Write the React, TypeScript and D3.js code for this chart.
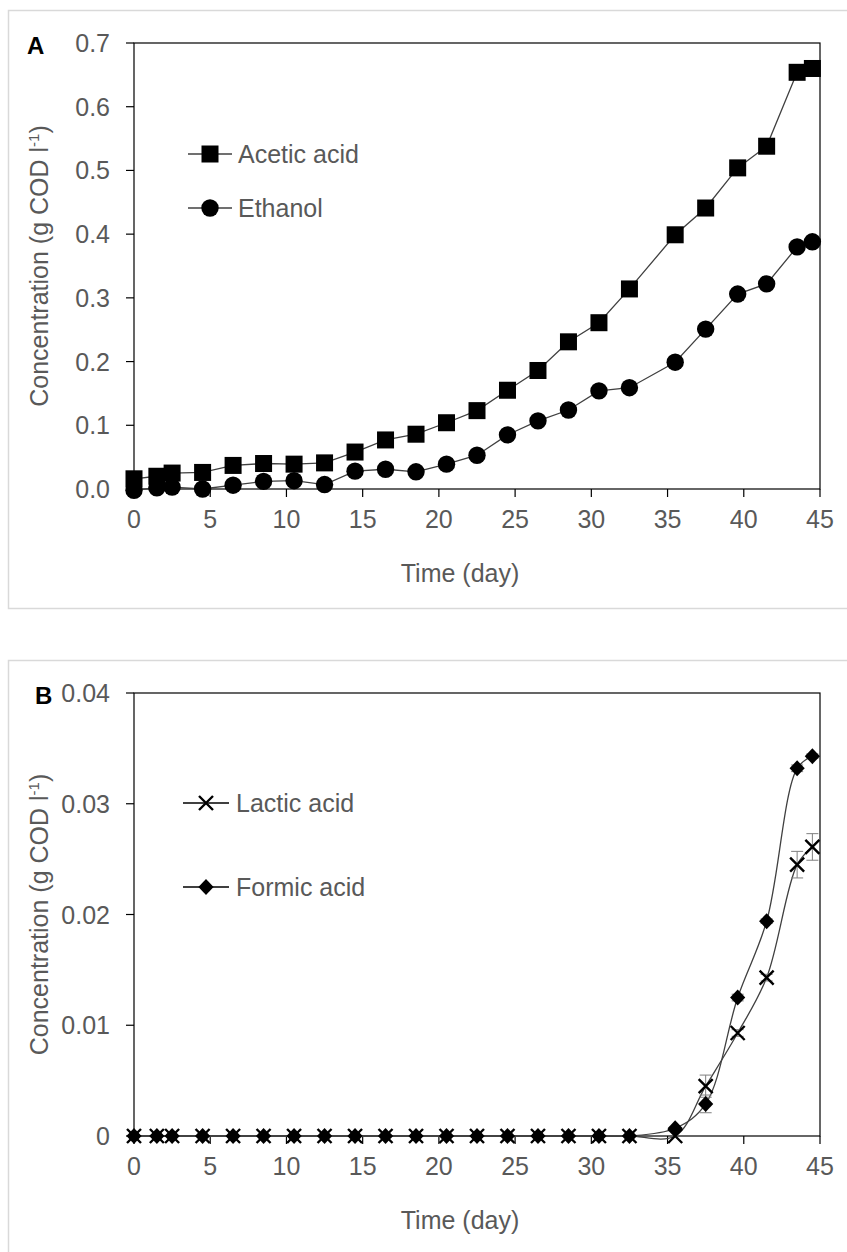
import React from "react";
import * as d3 from "d3";

const days = [0, 1.5, 2.5, 4.5, 6.5, 8.5, 10.5, 12.5, 14.5, 16.5, 18.5, 20.5, 22.5, 24.5, 26.5, 28.5, 30.5, 32.5, 35.5, 37.5, 39.6, 41.5, 43.5, 44.5];
const acetic = [0.016, 0.02, 0.025, 0.026, 0.037, 0.04, 0.039, 0.041, 0.058, 0.077, 0.086, 0.104, 0.123, 0.155, 0.186, 0.231, 0.261, 0.314, 0.399, 0.441, 0.504, 0.538, 0.654, 0.66];
const ethanol = [-0.002, 0.002, 0.003, 0.0, 0.006, 0.012, 0.013, 0.007, 0.028, 0.031, 0.027, 0.039, 0.053, 0.085, 0.107, 0.124, 0.154, 0.159, 0.199, 0.251, 0.306, 0.322, 0.38, 0.388];
const lactic = [0, 0, 0, 0, 0, 0, 0, 0, 0, 0, 0, 0, 0, 0, 0, 0, 0, 0, 0, 0.0045, 0.0093, 0.0143, 0.0245, 0.0261];
const formic = [0, 0, 0, 0, 0, 0, 0, 0, 0, 0, 0, 0, 0, 0, 0, 0, 0, 0, 0.0007, 0.0029, 0.0125, 0.0194, 0.0332, 0.0343];
const lacticErr = [0, 0, 0, 0, 0, 0, 0, 0, 0, 0, 0, 0, 0, 0, 0, 0, 0, 0, 0, 0.001, 0.0003, 0.0003, 0.0012, 0.0012];
const formicErr = [0, 0, 0, 0, 0, 0, 0, 0, 0, 0, 0, 0, 0, 0, 0, 0, 0, 0, 0, 0.0008, 0.0003, 0.0002, 0.0003, 0.0002];
const xTicks = [0, 5, 10, 15, 20, 25, 30, 35, 40, 45];
const yTicksA = [0, 0.1, 0.2, 0.3, 0.4, 0.5, 0.6, 0.7];
const yTicksB = [0, 0.01, 0.02, 0.03, 0.04];
const yLabelsA = ["0.0", "0.1", "0.2", "0.3", "0.4", "0.5", "0.6", "0.7"];
const yLabelsB = ["0", "0.01", "0.02", "0.03", "0.04"];

const FONT = "'Liberation Sans', Arial, sans-serif";
const GRAY = "#595959";
const LINE = "#404040";
const FS = 25;

const L = 134, R = 820;

function Square({ x, y, s = 17 }: { x: number; y: number; s?: number }) {
  return <rect x={x - s / 2} y={y - s / 2} width={s} height={s} fill="#000" />;
}
function Circle({ x, y, r = 8.7 }: { x: number; y: number; r?: number }) {
  return <circle cx={x} cy={y} r={r} fill="#000" />;
}
function Diamond({ x, y, s = 8 }: { x: number; y: number; s?: number }) {
  return <path d={`M${x},${y - s}L${x + s * 0.95},${y}L${x},${y + s}L${x - s * 0.95},${y}Z`} fill="#000" />;
}
function Cross({ x, y, s = 7 }: { x: number; y: number; s?: number }) {
  return (
    <path d={`M${x - s},${y - s}L${x + s},${y + s}M${x - s},${y + s}L${x + s},${y - s}`} stroke="#000" strokeWidth={2.4} fill="none" />
  );
}

function Panel({
  top, bottom, yMax, yTicks, yLabels, letter, letterX,
}: { top: number; bottom: number; yMax: number; yTicks: number[]; yLabels: string[]; letter: string; letterX: number }) {
  const x = d3.scaleLinear().domain([0, 45]).range([L, R]);
  const y = d3.scaleLinear().domain([0, yMax]).range([bottom, top]);
  const mid = (top + bottom) / 2;
  return (
    <g>
      <rect x={L} y={top} width={R - L} height={bottom - top} fill="none" stroke="#000" strokeWidth={1.2} />
      {yTicks.map((t, i) => (
        <g key={"y" + i}>
          <line x1={L - 8} x2={L} y1={y(t)} y2={y(t)} stroke="#000" strokeWidth={1.2} />
          <text x={110} y={y(t) + 9} textAnchor="end" fontSize={FS} fill={GRAY} fontFamily={FONT}>{yLabels[i]}</text>
        </g>
      ))}
      {xTicks.map((t, i) => (
        <g key={"x" + i}>
          <line x1={x(t)} x2={x(t)} y1={bottom} y2={bottom + 8} stroke="#000" strokeWidth={1.2} />
          <text x={x(t)} y={bottom + 39} textAnchor="middle" fontSize={FS} fill={GRAY} fontFamily={FONT}>{t}</text>
        </g>
      ))}
      <text x={460} y={bottom + 93} textAnchor="middle" fontSize={FS} fill={GRAY} fontFamily={FONT}>Time (day)</text>
      <text transform={`translate(48,${mid}) rotate(-90)`} textAnchor="middle" fontSize={FS} fill={GRAY} fontFamily={FONT}>
        Concentration (g COD l<tspan fontSize={15} dy={-9}>-1</tspan><tspan dy={9}>)</tspan>
      </text>
      <text x={letterX} y={top + 11} fontSize={24} fontWeight="bold" fill="#000" fontFamily={FONT}>{letter}</text>
    </g>
  );
}

export default function App() {
  const xA = d3.scaleLinear().domain([0, 45]).range([L, R]);
  const yA = d3.scaleLinear().domain([0, 0.7]).range([489, 43]);
  const yB = d3.scaleLinear().domain([0, 0.04]).range([1136, 693]);
  const lineA = (vals: number[]) =>
    d3.line<number>().x((_, i) => xA(days[i])).y((v) => yA(v))(vals) || "";
  const lineB = (vals: number[]) =>
    d3.line<number>().x((_, i) => xA(days[i])).y((v) => yB(v)).curve(d3.curveCatmullRom.alpha(0.5))(vals) || "";

  return (
    <svg width={847} height={1252} style={{ position: "absolute", left: 0, top: 0, background: "#fff" }}>
      <rect x={0} y={0} width={847} height={1252} fill="#fff" />
      <rect x={8.5} y={10.5} width={845} height={598} fill="none" stroke="#d9d9d9" strokeWidth={1.5} />
      <rect x={8.5} y={660.5} width={845} height={600} fill="none" stroke="#d9d9d9" strokeWidth={1.5} />

      <Panel top={43} bottom={489} yMax={0.7} yTicks={yTicksA} yLabels={yLabelsA} letter="A" letterX={27} />
      <Panel top={693} bottom={1136} yMax={0.04} yTicks={yTicksB} yLabels={yLabelsB} letter="B" letterX={35} />

      {/* Panel A */}
      <path d={lineA(acetic)} fill="none" stroke={LINE} strokeWidth={1.3} />
      <path d={lineA(ethanol)} fill="none" stroke={LINE} strokeWidth={1.3} />
      {acetic.map((v, i) => <Square key={"a" + i} x={xA(days[i])} y={yA(v)} />)}
      {ethanol.map((v, i) => <Circle key={"e" + i} x={xA(days[i])} y={yA(v)} />)}

      <line x1={188} x2={232} y1={154} y2={154} stroke={LINE} strokeWidth={1.3} />
      <Square x={210} y={154} />
      <text x={238} y={163} fontSize={FS} fill={GRAY} fontFamily={FONT}>Acetic acid</text>
      <line x1={188} x2={232} y1={208} y2={208} stroke={LINE} strokeWidth={1.3} />
      <Circle x={210} y={208} />
      <text x={238} y={217} fontSize={FS} fill={GRAY} fontFamily={FONT}>Ethanol</text>

      {/* Panel B */}
      <path d={lineB(lactic)} fill="none" stroke={LINE} strokeWidth={1.3} />
      <path d={lineB(formic)} fill="none" stroke={LINE} strokeWidth={1.3} />
      {lactic.map((v, i) => lacticErr[i] > 0 ? (
        <g key={"le" + i} stroke="#7f7f7f" strokeWidth={1}>
          <line x1={xA(days[i])} x2={xA(days[i])} y1={yB(v - lacticErr[i])} y2={yB(v + lacticErr[i])} />
          <line x1={xA(days[i]) - 6} x2={xA(days[i]) + 6} y1={yB(v - lacticErr[i])} y2={yB(v - lacticErr[i])} />
          <line x1={xA(days[i]) - 6} x2={xA(days[i]) + 6} y1={yB(v + lacticErr[i])} y2={yB(v + lacticErr[i])} />
        </g>
      ) : null)}
      {formic.map((v, i) => formicErr[i] > 0 ? (
        <g key={"fe" + i} stroke="#7f7f7f" strokeWidth={1}>
          <line x1={xA(days[i])} x2={xA(days[i])} y1={yB(v - formicErr[i])} y2={yB(v + formicErr[i])} />
          <line x1={xA(days[i]) - 6} x2={xA(days[i]) + 6} y1={yB(v - formicErr[i])} y2={yB(v - formicErr[i])} />
          <line x1={xA(days[i]) - 6} x2={xA(days[i]) + 6} y1={yB(v + formicErr[i])} y2={yB(v + formicErr[i])} />
        </g>
      ) : null)}
      {lactic.map((v, i) => <Cross key={"l" + i} x={xA(days[i])} y={yB(v)} />)}
      {formic.map((v, i) => <Diamond key={"f" + i} x={xA(days[i])} y={yB(v)} />)}

      <line x1={183} x2={229} y1={803} y2={803} stroke="#000" strokeWidth={1.3} />
      <Cross x={206} y={803} />
      <text x={236} y={812} fontSize={FS} fill={GRAY} fontFamily={FONT}>Lactic acid</text>
      <line x1={183} x2={229} y1={887} y2={887} stroke="#000" strokeWidth={1.3} />
      <Diamond x={206} y={887} />
      <text x={236} y={896} fontSize={FS} fill={GRAY} fontFamily={FONT}>Formic acid</text>
    </svg>
  );
}
